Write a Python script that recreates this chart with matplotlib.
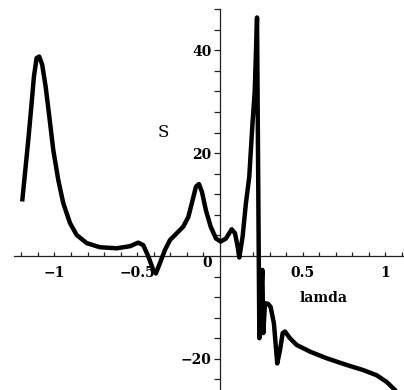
import numpy as np
import matplotlib
matplotlib.use("Agg")
import matplotlib.pyplot as plt
from matplotlib.ticker import FixedLocator, FixedFormatter

# curve S(lamda)
lamda = [-1.195, -1.178, -1.158, -1.138, -1.124, -1.108, -1.092, -1.074,
         -1.053, -1.031, -1.007, -0.977, -0.947, -0.906, -0.866, -0.805,
         -0.725, -0.624, -0.544, -0.494, -0.463, -0.433, -0.403, -0.387,
         -0.363, -0.332, -0.302, -0.262, -0.222, -0.191, -0.165, -0.145,
         -0.127, -0.109, -0.085, -0.056, -0.024, 0.004, 0.036, 0.071,
         0.091, 0.107, 0.117, 0.137, 0.157, 0.177, 0.196, 0.21,
         0.224, 0.238, 0.256, 0.262, 0.272, 0.29, 0.306, 0.326,
         0.346, 0.363, 0.379, 0.393, 0.423, 0.463, 0.544, 0.645,
         0.766, 0.866, 0.947, 1.007, 1.068]
S = [10.6, 16.1, 22.6, 29.7, 34.9, 38.5, 38.8, 37.2,
     32.9, 27.1, 20.6, 14.8, 10.3, 6.4, 4.1, 2.5,
     1.7, 1.5, 1.9, 2.6, 2.1, -0.1, -2.7, -3.4,
     -1.4, 1.2, 3.1, 4.4, 5.7, 7.6, 10.9, 13.5,
     14.0, 12.5, 8.9, 5.7, 3.4, 2.8, 3.4, 5.2,
     4.4, 1.8, -0.3, 3.8, 10.3, 15.4, 25.5, 32.0,
     46.4, -16.0, -2.7, -15.0, -9.2, -9.3, -9.9, -13.1,
     -20.9, -18.3, -15.0, -14.7, -16.0, -17.3, -18.6, -19.9,
     -21.2, -22.2, -23.2, -24.5, -26.4]

x_major = [-1, -0.5, 0.5, 1]
x_labels = ["\u22121", "\u22120.5", "0.5", "1"]
y_major = [-20, 20, 40]
y_labels = ["\u221220", "20", "40"]

font = {"family": ["DejaVu Serif"], "weight": "bold", "size": 10}

fig = plt.figure(figsize=(4.04, 3.90), dpi=100)
ax = fig.add_axes([0, 0, 1, 1])
ax.set_xlim(-1.329, 1.112)
ax.set_ylim(-26.07, 49.8)

ax.plot(lamda, S, color="black", lw=3.2, solid_joinstyle="round",
        solid_capstyle="butt", zorder=3)

for side in ["top", "right"]:
    ax.spines[side].set_visible(False)
ax.spines["left"].set_position(("data", 0))
ax.spines["bottom"].set_position(("data", 0))
ax.spines["left"].set_bounds(-26.07, 48)
ax.spines["bottom"].set_bounds(-1.245, 1.112)
for side in ["left", "bottom"]:
    ax.spines[side].set_linewidth(0.9)
    ax.spines[side].set_color("#222222")

xminor = [round(v, 1) for v in np.arange(-1.2, 1.15, 0.1) if round(v, 1) not in (-1, -0.5, 0, 0.5, 1)]
ax.xaxis.set_major_locator(FixedLocator(x_major))
ax.xaxis.set_major_formatter(FixedFormatter(x_labels))
ax.xaxis.set_minor_locator(FixedLocator(xminor))
yminor = [v for v in range(-24, 49, 4) if v not in (-20, 0, 20, 40)]
ax.yaxis.set_major_locator(FixedLocator(y_major))
ax.yaxis.set_major_formatter(FixedFormatter(y_labels))
ax.yaxis.set_minor_locator(FixedLocator(yminor))

ax.tick_params(axis="x", which="both", direction="in", length=3, width=0.9, pad=7, color="#222222")
ax.tick_params(axis="y", which="both", direction="out", length=4.5, width=0.9, pad=1.5, color="#222222")
for lab in ax.get_xticklabels() + ax.get_yticklabels():
    lab.set_fontfamily(font["family"])
    lab.set_fontweight("bold")
    lab.set_fontsize(font["size"])

ax.text(-0.0785, -1.36, "0", ha="center", va="center", **font)
ax.text(-0.344, 24.0, "S", ha="center", va="center", family="DejaVu Serif", size=12)
ax.text(0.628, -8.1, "lamda", ha="center", va="center", **font)

fig.savefig("out.png", dpi=100)
